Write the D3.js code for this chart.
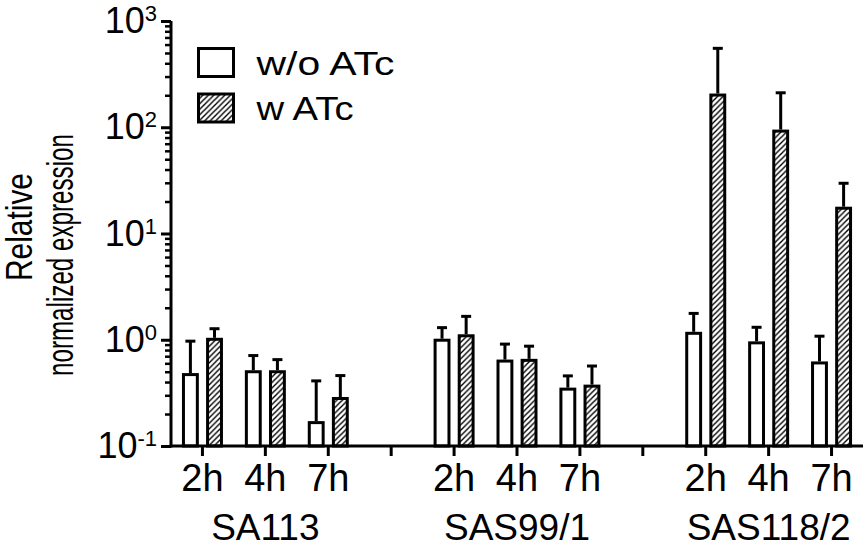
<!DOCTYPE html>
<html>
<head>
<meta charset="utf-8">
<script src="https://cdn.jsdelivr.net/npm/d3@7"></script>
<style>
  body { margin: 0; background: #fff; }
  svg { display: block; font-family: Arial, "Liberation Sans", sans-serif; }
</style>
</head>
<body>
<div id="chart"></div>
<script>
// strains and time points
const groups = ["SA113", "SAS99/1", "SAS118/2"];
const times = ["2h", "4h", "7h"];

// w/o ATc: mean and upper SD, order SA113 2h,4h,7h, SAS99/1 ..., SAS118/2 ...
const woMean = [0.47, 0.50, 0.166, 0.99, 0.63, 0.343, 1.15, 0.935, 0.605];
const woSD   = [0.50, 0.21, 0.244, 0.31, 0.28, 0.114, 0.62, 0.375, 0.475];

// w ATc
const wMean = [1.01, 0.50, 0.28, 1.09, 0.64, 0.366, 201, 92, 17.3];
const wSD   = [0.26, 0.15, 0.18, 0.57, 0.23, 0.20, 352, 119, 12.4];

const series = ["w/o ATc", "w ATc"];
const yMajor = [0.1, 1, 10, 100, 1000];
const yExp = ["-1", "0", "1", "2", "3"];

const W = 868, H = 548;
const svg = d3.select("#chart").append("svg")
    .attr("width", W)
    .attr("height", H);

// hatch pattern for the ATc bars
svg.append("defs").append("pattern")
    .attr("id", "hatch")
    .attr("patternUnits", "userSpaceOnUse")
    .attr("width", 5.5)
    .attr("height", 5.5)
    .call(p => {
        p.append("rect").attr("width", 5.5).attr("height", 5.5).attr("fill", "#fff");
        p.append("path")
            .attr("d", "M-1,1 l2,-2 M0,5.5 l5.5,-5.5 M4.5,6.5 l2,-2")
            .attr("stroke", "#000")
            .attr("stroke-width", 1.4);
    });

// 11 slots: 3 per strain plus an empty one between strains
const slots = d3.range(11);
const x = d3.scaleBand()
    .domain(slots)
    .range([171, 863])
    .padding(0);

const x1 = d3.scaleBand()
    .domain(series)
    .range([-20.5, 20.5])
    .paddingInner(0.3);

const y = d3.scaleLog()
    .domain([0.1, 1000])
    .range([446, 21]);

// rows
const rows = [];
groups.forEach((g, gi) => {
    times.forEach((t, ti) => {
        const i = gi * 3 + ti;
        const slot = gi * 4 + ti;
        rows.push({ slot, time: t, key: series[0], mean: woMean[i], sd: woSD[i] });
        rows.push({ slot, time: t, key: series[1], mean: wMean[i], sd: wSD[i] });
    });
});
const cx = d => x(d.slot) + x.bandwidth() / 2;

// bars
svg.selectAll(".bar")
    .data(rows)
    .enter()
    .append("rect")
    .attr("class", "bar")
    .attr("x", d => cx(d) + x1(d.key) + 1.5)
    .attr("width", x1.bandwidth() - 3)
    .attr("y", d => y(d.mean))
    .attr("height", d => y(0.1) - y(d.mean))
    .attr("fill", d => d.key === series[0] ? "#fff" : "url(#hatch)")
    .attr("stroke", "#000")
    .attr("stroke-width", 3);

// error bars (upper only)
const err = svg.selectAll(".err")
    .data(rows)
    .enter()
    .append("g")
    .attr("class", "err")
    .attr("stroke", "#000")
    .attr("stroke-width", 3);

err.append("line")
    .attr("x1", d => cx(d) + x1(d.key) + x1.bandwidth() / 2)
    .attr("x2", d => cx(d) + x1(d.key) + x1.bandwidth() / 2)
    .attr("y1", d => y(d.mean) - 1.5)
    .attr("y2", d => y(d.mean + d.sd));

err.append("line")
    .attr("x1", d => cx(d) + x1(d.key) + x1.bandwidth() / 2 - 5)
    .attr("x2", d => cx(d) + x1(d.key) + x1.bandwidth() / 2 + 5)
    .attr("y1", d => y(d.mean + d.sd))
    .attr("y2", d => y(d.mean + d.sd));

// y axis: minor ticks
const minor = [];
[0.1, 1, 10, 100].forEach(b => d3.range(2, 10).forEach(k => minor.push(b * k)));

svg.append("g")
    .attr("transform", "translate(171,0)")
    .call(d3.axisLeft(y).tickValues(minor).tickSize(6).tickFormat(""))
    .call(g => g.select(".domain").remove())
    .selectAll("line").attr("stroke-width", 2.5);

const yAxis = svg.append("g")
    .attr("transform", "translate(171,0)")
    .call(d3.axisLeft(y).tickValues(yMajor).tickSize(10).tickSizeOuter(0).tickFormat(""));
yAxis.select(".domain").attr("stroke-width", 3).attr("d", `M0,${y(1000)}V${y(0.1) + 1.5}`);
yAxis.selectAll("line").attr("stroke-width", 3);

// y tick labels as 10 with superscript
const yLab = svg.append("g")
    .selectAll("text")
    .data(yMajor)
    .enter()
    .append("text")
    .attr("x", 157)
    .attr("y", d => y(d) + 12)
    .attr("text-anchor", "end")
    .attr("font-size", 36)
    .attr("fill", "#000");
yLab.append("tspan").text("10");
yLab.append("tspan")
    .attr("dy", -12)
    .attr("font-size", 22)
    .text((d, i) => yExp[i]);

// x axis
const xAxis = svg.append("g")
    .attr("transform", `translate(0,${y(0.1)})`)
    .call(d3.axisBottom(x).tickSize(10).tickSizeOuter(0).tickFormat(""));
xAxis.select(".domain").attr("stroke-width", 3).attr("d", "M169.5,0H863");
xAxis.selectAll("line").attr("stroke-width", 3);

// time labels
svg.append("g")
    .selectAll("text")
    .data(rows.filter(d => d.key === series[0]))
    .enter()
    .append("text")
    .attr("x", d => cx(d))
    .attr("y", 491)
    .attr("text-anchor", "middle")
    .attr("font-size", 38)
    .text(d => d.time);

// strain labels
svg.append("g")
    .selectAll("text")
    .data(groups)
    .enter()
    .append("text")
    .attr("x", (d, i) => x(i * 4 + 1) + x.bandwidth() / 2)
    .attr("y", 540)
    .attr("text-anchor", "middle")
    .attr("font-size", 37)
    .text(d => d);

// y axis title
svg.append("text")
    .attr("transform", "translate(32,227) rotate(-90)")
    .attr("text-anchor", "middle")
    .attr("font-size", 37)
    .attr("textLength", 108)
    .attr("lengthAdjust", "spacingAndGlyphs")
    .text("Relative");
svg.append("text")
    .attr("transform", "translate(73,255) rotate(-90)")
    .attr("text-anchor", "middle")
    .attr("font-size", 37)
    .attr("textLength", 242)
    .attr("lengthAdjust", "spacingAndGlyphs")
    .text("normalized expression");

// legend
const legend = svg.append("g")
    .selectAll("g")
    .data(series)
    .enter()
    .append("g")
    .attr("transform", (d, i) => `translate(198.5,${48.5 + i * 45.5})`);
legend.append("rect")
    .attr("width", 35)
    .attr("height", 28)
    .attr("fill", (d, i) => i === 0 ? "#fff" : "url(#hatch)")
    .attr("stroke", "#000")
    .attr("stroke-width", 3);
legend.append("text")
    .attr("x", 58)
    .attr("y", 26)
    .attr("font-size", 34)
    .attr("textLength", (d, i) => i === 0 ? 138 : 97)
    .attr("lengthAdjust", "spacingAndGlyphs")
    .text(d => d);
</script>
</body>
</html>
